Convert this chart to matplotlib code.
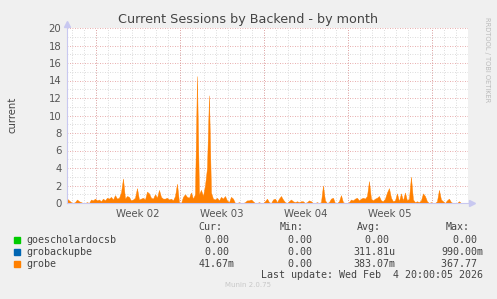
import numpy as np
import matplotlib
matplotlib.use("Agg")
import matplotlib.pyplot as plt

# grobe sessions, one value every 4 hours
grobe = [
    0.5, 0.3, 0.1, 0.0, 0.1, 0.4, 0.2, 0.1, 0.0, 0.0,
    0.1, 0.0, 0.4, 0.3, 0.5, 0.3, 0.4, 0.2, 0.5, 0.3,
    0.6, 0.5, 0.7, 0.4, 0.9, 0.5, 0.6, 1.2, 2.8, 0.5,
    0.8, 0.7, 0.3, 0.4, 0.6, 1.7, 0.4, 0.5, 0.6, 0.4,
    1.3, 1.1, 0.6, 0.5, 1.0, 0.6, 1.5, 0.7, 0.5, 0.5,
    0.6, 0.4, 0.5, 0.3, 0.8, 2.2, 0.1, 0.0, 0.7, 1.0,
    0.7, 0.6, 1.2, 0.5, 1.0, 14.5, 1.0, 1.5, 0.8, 2.0,
    4.0, 12.3, 1.2, 0.5, 0.4, 0.6, 0.3, 0.7, 0.5, 0.8,
    0.3, 0.1, 0.7, 0.5, 0.0, 0.0, 0.1, 0.0, 0.0, 0.1,
    0.3, 0.3, 0.4, 0.2, 0.0, 0.0, 0.1, 0.0, 0.0, 0.2,
    0.5, 0.1, 0.0, 0.4, 0.5, 0.1, 0.5, 0.8, 0.4, 0.1,
    0.0, 0.2, 0.4, 0.2, 0.1, 0.2, 0.1, 0.2, 0.2, 0.0,
    0.1, 0.3, 0.2, 0.0, 0.0, 0.1, 0.0, 0.1, 2.0, 0.3,
    0.0, 0.1, 0.5, 0.6, 0.0, 0.0, 0.2, 0.9, 0.1, 0.0,
    0.0, 0.1, 0.4, 0.3, 0.5, 0.6, 0.3, 0.5, 0.6, 0.5,
    0.8, 2.5, 0.5, 0.3, 0.5, 0.6, 0.8, 0.3, 0.2, 0.5,
    1.2, 1.7, 0.6, 0.2, 0.3, 1.1, 0.2, 1.1, 0.3, 1.2,
    0.3, 0.5, 3.0, 0.4, 0.1, 0.2, 0.1, 0.3, 1.1, 0.8,
    0.2, 0.0, 0.1, 0.0, 0.0, 0.2, 1.5, 0.4, 0.2, 0.0,
    0.3, 0.5, 0.1, 0.0, 0.0, 0.0, 0.2, 0.0, 0.0, 0.0,
    0.0,
]
step_days = 4 / 24
span_days = 33.42
first_week = 2.4          # days from left edge to first week boundary
week_labels = ["Week 02", "Week 03", "Week 04", "Week 05"]

names = ["goescholardocsb", "grobackupbe", "grobe"]
colors = ["#00CC00", "#0066B3", "#FF8000"]
cur = ["0.00 ", "0.00 ", "41.67m"]
mins = ["0.00 ", "0.00 ", "0.00 "]
avgs = ["0.00 ", "311.81u", "383.07m"]
maxs = ["0.00 ", "990.00m", "367.77 "]

W, H = 497, 299
fig = plt.figure(figsize=(W / 100, H / 100), dpi=100, facecolor="#F0F0F0")
ax = fig.add_axes([67 / W, (H - 203) / H, 401 / W, 175 / H], facecolor="white")

t = np.arange(len(grobe)) * step_days
ax.fill_between(t, grobe, color=colors[2], lw=0.3, edgecolor=colors[2], zorder=3)

ax.set_xlim(0, span_days)
ax.set_ylim(0, 20)

# grid like rrdtool: grey dotted minor, red dotted major
dot = (0, (1, 2))
for d in np.arange(first_week % 1, span_days, 1.0):
    ax.axvline(d, color="#D0D0D0", lw=0.6, ls=dot, zorder=1)
for d in np.arange(first_week, span_days, 7.0):
    ax.axvline(d, color="#E09090", lw=0.6, ls=dot, zorder=2)
for v in range(1, 21):
    c = "#E09090" if v % 2 == 0 else "#D0D0D0"
    ax.axhline(v, color=c, lw=0.6, ls=dot, zorder=2 if v % 2 == 0 else 1)

for s in ax.spines.values():
    s.set_visible(False)
ax.set_yticks(range(0, 21, 2))
ax.set_yticklabels([str(v) for v in range(0, 21, 2)])
ax.set_xticks([first_week + 3.5 + 7 * k for k in range(len(week_labels))])
ax.set_xticklabels(week_labels)
ax.tick_params(length=0, labelsize=7.3, colors="#555555", pad=4)

# axes lines with arrows
axc = "#C8C8F0"
ax.plot([0, 0], [0, 20.3], color=axc, lw=0.8, clip_on=False, zorder=4)
ax.plot([0, span_days + 0.3], [0, 0], color=axc, lw=0.8, clip_on=False, zorder=4)
ax.plot([0], [20.5], marker="^", ms=4, color=axc, clip_on=False, zorder=4)
ax.plot([span_days + 0.3], [0], marker=">", ms=4, color=axc, clip_on=False, zorder=4)

fig.text(248 / W, 1 - 19 / H, "Current Sessions by Backend - by month", ha="center", va="center",
         fontsize=9.2, color="#444444")
fig.text(12 / W, 1 - 115 / H, "current", rotation=90, ha="center", va="center", fontsize=7.3, color="#444444")
fig.text(487 / W, 1 - 60 / H, "RRDTOOL / TOBI OETIKER", rotation=270, ha="center", va="center",
         fontsize=4.8, color="#BBBBBB")

mono = dict(family="DejaVu Sans Mono", fontsize=7.2, color="#444444", va="center")
hy = 227
fig.text(222 / W, 1 - hy / H, "Cur:", ha="right", **mono)
fig.text(304 / W, 1 - hy / H, "Min:", ha="right", **mono)
fig.text(381 / W, 1 - hy / H, "Avg:", ha="right", **mono)
fig.text(470 / W, 1 - hy / H, "Max:", ha="right", **mono)
for i, n in enumerate(names):
    y = 1 - (240 + 12 * i) / H
    fig.patches.append(plt.Rectangle((14 / W, y - 3 / H), 6 / W, 6 / H, transform=fig.transFigure,
                                     color=colors[i]))
    fig.text(26 / W, y, n, ha="left", **mono)
    fig.text(235 / W, y, cur[i], ha="right", **mono)
    fig.text(318 / W, y, mins[i], ha="right", **mono)
    fig.text(395 / W, y, avgs[i], ha="right", **mono)
    fig.text(483 / W, y, maxs[i], ha="right", **mono)
fig.text(483 / W, 1 - 275 / H, "Last update: Wed Feb  4 20:00:05 2026", ha="right", **mono)
fig.text(248 / W, 1 - 285 / H, "Munin 2.0.75", ha="center", va="center", fontsize=5, color="#C8C8C8")

fig.savefig("out.png", dpi=100, facecolor=fig.get_facecolor())
